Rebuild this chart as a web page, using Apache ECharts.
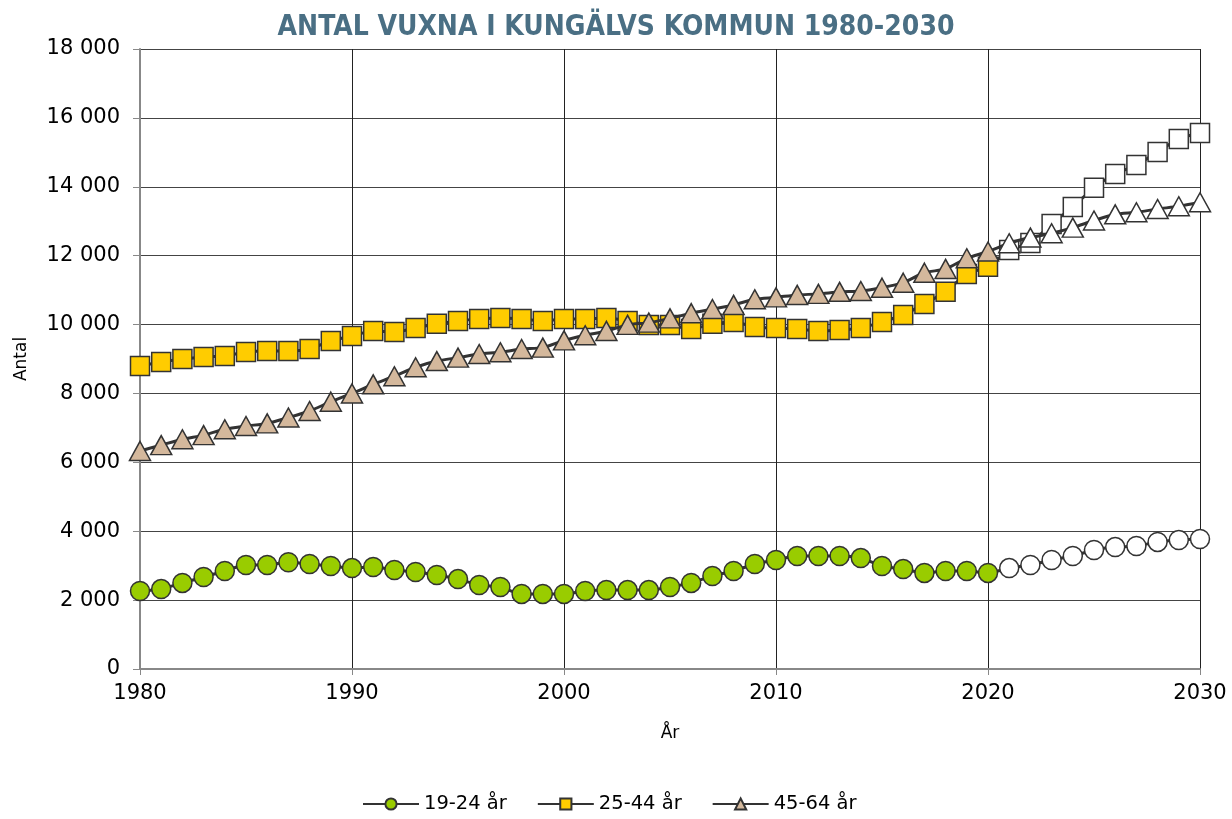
<!DOCTYPE html>
<html>
<head>
<meta charset="utf-8">
<script src="https://cdn.jsdelivr.net/npm/echarts@6/dist/echarts.min.js"></script>
<style>
  html, body { margin: 0; padding: 0; background: #fff; }
  #chart { width: 1232px; height: 819px; }
</style>
</head>
<body>
<div id="chart"></div>
<script>
// år 1980-2030, prognos från 2021
const years = [];
for (let y = 1980; y <= 2030; y++) years.push(y);
const forecastFrom = 2021;

const age1924 = [2265, 2320, 2500, 2670, 2845, 3020, 3020, 3100, 3050, 2990,
                 2930, 2960, 2875, 2815, 2730, 2610, 2440, 2380, 2180, 2180,
                 2180, 2265, 2290, 2290, 2290, 2380, 2500, 2700, 2845, 3050,
                 3165, 3280, 3280, 3280, 3220, 2990, 2900, 2790, 2845, 2845,
                 2790, 2930, 3020, 3165, 3280, 3455, 3540, 3570, 3690, 3745, 3775];
const age2544 = [8800, 8910, 9000, 9060, 9090, 9205, 9235, 9235, 9290, 9525,
                 9670, 9815, 9785, 9900, 10020, 10105, 10160, 10190, 10160, 10105,
                 10160, 10160, 10190, 10105, 9990, 9990, 9870, 10020, 10075, 9930,
                 9900, 9870, 9815, 9840, 9900, 10075, 10280, 10600, 10950, 11470,
                 11675, 12165, 12370, 12920, 13415, 13970, 14370, 14630, 15010, 15390, 15560];
const age4564 = [6330, 6500, 6670, 6790, 6960, 7055, 7130, 7300, 7490, 7760,
                 8000, 8265, 8500, 8760, 8940, 9040, 9145, 9195, 9290, 9330,
                 9540, 9690, 9815, 9990, 10055, 10180, 10330, 10450, 10570, 10735,
                 10790, 10860, 10890, 10950, 10975, 11070, 11215, 11505, 11615, 11925,
                 12120, 12360, 12525, 12650, 12815, 13020, 13200, 13260, 13355, 13435, 13550];
const seriesNames = ['19-24 år', '25-44 år', '45-64 år'];
const seriesColors = ['#99cc00', '#ffcc00', '#d4b89c'];
const seriesSymbols = ['circle', 'rect', 'triangle'];
const seriesValues = [age1924, age2544, age4564];

const fmt = v => String(v).replace(/\B(?=(\d{3})+(?!\d))/g, ' ');
const font = 'DejaVu Sans';

const chart = echarts.init(document.getElementById('chart'));

const series = seriesNames.map((name, i) => ({
  name: name,
  type: 'line',
  smooth: 0.25,
  symbol: seriesSymbols[i],
  symbolSize: i === 2 ? [21, 19] : 19,
  lineStyle: { color: '#333', width: 3 },
  itemStyle: { color: seriesColors[i], borderColor: '#333', borderWidth: 1.5 },
  data: years.map((y, k) => {
    const item = { value: [y, seriesValues[i][k]] };
    if (y >= forecastFrom) item.itemStyle = { color: '#fff' };
    return item;
  }),
  z: 3 + i
}));

chart.setOption({
  animation: false,
  title: {
    text: 'ANTAL VUXNA I KUNGÄLVS KOMMUN 1980-2030',
    left: 'center',
    top: 9,
    textStyle: {
      fontFamily: '"DejaVu Sans Condensed", "Liberation Sans", sans-serif',
      fontWeight: 'bold',
      fontSize: 28,
      color: '#4a6f84'
    }
  },
  legend: {
    bottom: 0,
    left: 357,
    itemWidth: 56,
    itemHeight: 14,
    itemGap: 30,
    textStyle: { fontFamily: font, fontSize: 19.5, color: '#000' },
    data: seriesNames
  },
  grid: { left: 140, right: 32, top: 49, bottom: 150 },
  xAxis: {
    type: 'value',
    min: 1980,
    max: 2030,
    interval: 10,
    name: 'År',
    nameLocation: 'middle',
    nameGap: 56,
    nameTextStyle: { fontFamily: font, fontSize: 17, color: '#000' },
    axisLine: { lineStyle: { color: '#888', width: 2 } },
    axisTick: { show: true, length: 6, lineStyle: { color: '#888' } },
    axisLabel: { fontFamily: font, fontSize: 21, color: '#000', margin: 14, formatter: v => String(v) },
    splitLine: { show: true, lineStyle: { color: '#222', width: 1 } }
  },
  yAxis: {
    type: 'value',
    min: 0,
    max: 18000,
    interval: 2000,
    name: 'Antal',
    nameLocation: 'middle',
    nameGap: 110,
    nameRotate: 90,
    nameTextStyle: { fontFamily: font, fontSize: 17, color: '#000' },
    axisLine: { show: true, lineStyle: { color: '#888', width: 2 } },
    axisTick: { show: true, length: 7, lineStyle: { color: '#888' } },
    axisLabel: { fontFamily: font, fontSize: 21, color: '#000', margin: 20, formatter: fmt },
    splitLine: { show: true, lineStyle: { color: '#444', width: 1 } }
  },
  series: series
});
</script>
</body>
</html>
